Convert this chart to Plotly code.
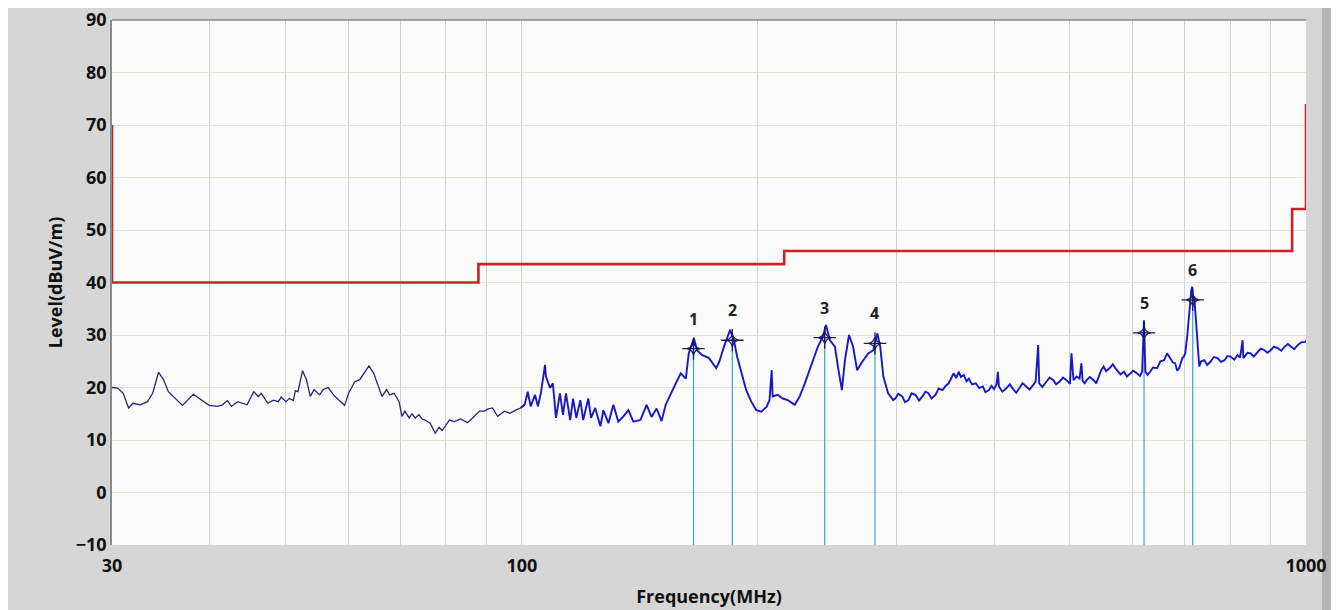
import math
import plotly.graph_objects as go

# ---- measured trace (MHz, dBuV/m) ----
trace_freq = [
    30.0, 30.5, 31.0, 31.5, 31.9, 32.6, 33.3, 33.8, 34.4, 34.9, 35.4, 36.9, 38.1, 38.9, 39.9,
    40.9, 41.5, 42.1, 42.6, 43.4, 44.1, 44.6, 45.5, 46.1, 46.5, 47.4, 48.2, 48.9, 49.3, 50.0,
    50.5, 51.1, 51.4, 51.8, 52.5, 53.1, 53.7, 54.3, 55.2, 55.8, 56.6, 57.5, 58.3, 59.4, 60.1,
    61.2, 62.1, 63.8, 64.7,
    65.3, 66.3, 67.2, 67.8, 68.7, 69.7, 70.3, 70.9, 71.8, 72.4, 73.1, 73.9, 74.6, 75.2, 76.4,
    77.5, 78.4, 79.1, 80.8, 82.0, 83.5, 85.2, 86.5, 88.3, 89.6, 90.4, 91.7, 93.1, 95.0, 96.5,
    98.2, 99.6, 100.8, 101.7, 102.6, 103.9, 104.8, 105.7, 107.0, 107.3, 108.6, 109.5, 110.5,
    111.8, 112.8, 113.8, 115.2, 116.2, 117.3, 118.7, 119.7, 121.5, 122.5, 124.0, 125.9, 127.0,
    128.9, 130.8, 132.7, 134.7, 136.7, 138.7, 141.6,
    144.2, 146.3, 148.5, 150.7, 152.5, 154.8, 157.1, 159.4, 161.8, 163.2, 165.7, 167.2, 169.6,
    173.2, 176.9, 178.5, 181.0, 184.3, 186.5, 188.1, 190.3, 193.2, 196.1, 199.0, 202.0, 205.1,
    206.9, 208.2, 208.8, 211.9, 215.1, 218.3, 222.8, 226.1, 229.5, 234.3, 238.5, 242.0, 244.2,
    247.1, 250.7, 252.9, 255.9, 258.2, 261.3, 264.4, 267.6, 271.6, 276.5, 280.6, 283.9, 286.4,
    289.0, 293.1, 297.5,
    299.3, 302.0, 305.5, 308.0, 311.1, 314.0, 317.5, 321.0, 324.1, 327.0, 329.9, 333.0, 336.8,
    340.0, 343.9, 347.0, 350.1, 353.0, 355.3, 358.0, 360.6, 363.0, 366.0, 369.0, 371.5, 375.0,
    379.2, 383.0, 387.1, 390.0, 394.0, 397.0, 400.0, 403.0, 404.6, 405.8, 410.0, 414.4, 419.0,
    423.1, 427.0, 430.6, 435.0, 439.6, 444.0, 448.8, 452.0, 455.4, 456.8, 461.0, 466.4, 471.0,
    476.2, 480.0, 484.7, 490.0, 494.9, 500.0, 502.2, 505.2, 510.0, 514.3, 517.0, 519.0, 522.0,
    525.0, 530.0, 536.1, 540.0, 544.1, 548.0, 551.9, 556.0, 561.8, 567.0, 573.8, 580.0, 586.0,
    591.0, 596.1, 602.0, 608.6, 614.0, 618.0, 621.4, 624.0, 628.0, 632.7, 638.0, 646.1, 652.0,
    659.2, 665.0, 670.9, 676.0, 681.0, 685.0, 689.1, 693.0, 695.3, 698.0, 701.3, 705.4, 709.0,
    711.7, 714.0, 716.0, 718.0, 720.2, 723.0, 726.6, 730.9, 735.0, 741.8, 748.0, 755.1, 763.0,
    771.1, 779.0, 787.1, 794.0, 801.2, 810.0, 817.9, 824.0, 830.1, 832.0, 835.0, 842.0, 850.0,
    858.0, 867.8, 876.0, 885.4, 893.0, 901.4, 910.0, 920.2, 930.0, 939.5, 948.0, 956.5, 966.0,
    976.4, 986.0, 997.0, 1000.0,
]
trace_level = [
    20.0, 19.9, 18.9, 16.1, 17.0, 16.7, 17.3, 18.9, 22.9, 21.5, 19.2, 16.6, 18.7, 17.7, 16.6,
    16.4, 16.7, 17.5, 16.4, 17.3, 17.0, 16.7, 19.2, 18.3, 18.9, 17.0, 17.6, 17.3, 18.2, 17.3,
    17.9, 17.5, 19.4, 19.2, 23.2, 21.5, 18.3, 19.6, 18.6, 19.6, 20.0, 18.6, 17.7, 16.6, 18.9,
    21.1, 21.5, 24.1, 22.7,
    21.1, 18.3, 19.6, 18.6, 18.9, 17.3, 14.5, 15.5, 14.2, 15.0, 14.2, 14.8, 14.0, 13.8, 13.2,
    11.3, 12.4, 11.8, 13.8, 13.5, 14.0, 13.3, 14.2, 15.5, 15.5, 15.9, 16.1, 14.5, 15.5, 15.1,
    15.7, 16.1, 16.7, 19.2, 16.4, 18.6, 16.4, 18.9, 24.3, 22.1, 19.9, 20.8, 14.2,
    18.9, 14.8, 18.9, 13.8, 17.9, 14.2, 17.6, 13.8, 17.9, 14.2, 16.1, 12.6, 15.7,
    13.2, 16.7, 13.5, 14.5, 15.7, 13.5, 13.8,
    16.7, 14.4, 16.0, 13.6, 16.7, 18.9, 20.8, 22.7, 21.7, 26.5, 29.4, 27.1, 26.2,
    25.6, 23.7, 24.9, 27.8, 31.0, 28.7, 25.9, 23.3, 19.5, 17.3, 15.7, 15.4, 16.3,
    17.6, 23.3, 18.3, 18.6, 17.9, 17.6, 16.7, 18.3, 20.8, 24.6, 27.8, 29.7, 31.9,
    29.0, 27.8, 24.0, 19.5, 25.2, 30.0, 27.8, 23.3, 24.9, 26.5, 27.1, 30.3, 27.8,
    22.1, 18.9, 17.6,
    17.9, 18.8, 18.3, 17.2, 17.6, 18.9, 18.6, 17.5, 18.3, 19.2, 18.9, 17.9, 18.6,
    19.8, 19.5, 20.3, 20.8, 22.0, 22.7, 21.8, 23.0, 22.0, 22.4, 21.2, 21.7, 20.6,
    20.8, 19.9, 20.2, 19.1, 19.5, 20.3, 19.7, 20.6, 23.0, 20.2, 19.2, 19.8, 20.6,
    19.7, 19.0, 19.8, 20.8, 20.2, 19.6, 20.5, 21.1, 28.1, 20.8, 20.1, 21.1, 21.9,
    21.4, 20.6, 21.1, 21.9, 21.4, 20.7, 26.5, 21.4, 22.1, 21.7, 24.6, 21.2, 20.8,
    21.4, 22.0, 21.4, 20.8, 22.1, 23.3, 24.0, 23.1, 23.7, 24.4, 23.3, 22.5, 23.0,
    22.1, 22.6, 23.2, 22.7, 22.2, 23.0, 32.8, 23.0, 22.4, 23.0, 23.8, 23.7, 25.0,
    25.2, 26.5, 25.6, 24.8, 24.6, 23.2, 23.7, 25.0, 25.6, 25.8, 26.5, 29.7, 33.5,
    37.3, 38.5, 39.2, 36.5, 37.3, 34.0, 30.3, 24.0, 25.0, 25.2, 24.3, 24.9, 25.8,
    25.6, 24.9, 25.2, 26.0, 25.9, 25.3, 26.2, 25.7, 29.0, 25.6, 25.9, 26.6, 26.5,
    25.9, 26.8, 27.4, 27.1, 26.6, 27.1, 27.8, 27.5, 27.0, 27.8, 28.3, 27.8, 27.3,
    28.1, 28.6, 28.7, 28.9,
]

# ---- limit line (step edges) ----
limit_freq = [30, 30, 88, 216, 960, 1000, 1000]
limit_level = [70, 40, 43.5, 46, 54, 54, 74]

# ---- markers ----
marker_labels = ["1", "2", "3", "4", "5", "6"]
marker_freq = [165.5, 185.5, 243.3, 282.0, 621.5, 717.0]
marker_level = [27.4, 29.0, 29.5, 28.4, 30.4, 36.7]

x_minor_grid = [40, 50, 60, 70, 80, 90, 200, 300, 400, 500, 600, 700, 800, 900]
x_tick_vals = [30, 100, 1000]
x_tick_text = ["30", "100", "1000"]
y_min, y_max = -10, 90
dense_start = 100.0  # trace drawn thicker above this frequency (as in the reference)

fig = go.Figure()

# marker drop lines
for f, lv in zip(marker_freq, marker_level):
    fig.add_trace(go.Scatter(x=[f, f], y=[y_min, lv], mode="lines",
                             line=dict(color="#3aa0cc", width=1.2),
                             hoverinfo="skip", showlegend=False))

fig.add_trace(go.Scatter(x=limit_freq, y=limit_level, mode="lines",
                         line=dict(color="#cc2222", width=2.6, shape="hv"),
                         showlegend=False))

lo = [(f, v) for f, v in zip(trace_freq, trace_level) if f <= dense_start + 1]
hi = [(f, v) for f, v in zip(trace_freq, trace_level) if f >= dense_start - 1]
fig.add_trace(go.Scatter(x=[p[0] for p in lo], y=[p[1] for p in lo], mode="lines",
                         line=dict(color="#25257e", width=1.3), showlegend=False))
fig.add_trace(go.Scatter(x=[p[0] for p in hi], y=[p[1] for p in hi], mode="lines",
                         line=dict(color="#1818c8", width=1.9), showlegend=False))

mk_col = "#1a1a5a"
fig.add_trace(go.Scatter(x=marker_freq, y=marker_level, mode="markers",
                         marker=dict(symbol="cross-thin-open", size=16, color=mk_col,
                                     line=dict(color=mk_col, width=1.3)),
                         showlegend=False))
fig.add_trace(go.Scatter(x=marker_freq, y=marker_level, mode="markers",
                         marker=dict(symbol="star-diamond-open", size=9, color=mk_col,
                                     line=dict(color=mk_col, width=1.2)),
                         showlegend=False))

annotations = []
for lab, f, lv in zip(marker_labels, marker_freq, marker_level):
    annotations.append(dict(x=math.log10(f), y=lv, xref="x", yref="y", text="<b>%s</b>" % lab,
                            showarrow=False, yshift=30,
                            font=dict(family="Open Sans", size=16, color="#222222")))

tick_font = dict(family="Open Sans", size=18, color="#111111", weight=700)
title_font = dict(family="Open Sans", size=18, color="#111111")

fig.update_layout(
    width=1331, height=602,
    margin=dict(l=104, r=33, t=12, b=65),
    paper_bgcolor="#d6d6d6",
    plot_bgcolor="#fbfbfb",
    xaxis=dict(
        type="log", range=[1.4771, 3.0], automargin=False,
        tickvals=x_tick_vals, ticktext=x_tick_text,
        tickfont=tick_font, ticks="", showline=False,
        ticklabelstandoff=8, ticklabeloverflow="allow",
        showgrid=True, gridcolor="#d2d2d2", gridwidth=1,
        minor=dict(tickvals=x_minor_grid, showgrid=True, gridcolor="#d2d2d2", gridwidth=1, ticks=""),
        zeroline=False,
        title=dict(text="<b>Frequency(MHz)</b>", font=title_font, standoff=14),
    ),
    yaxis=dict(
        range=[y_min, y_max], dtick=10, tick0=0, automargin=False,
        tickfont=tick_font, ticks="", ticklabeloverflow="allow",
        showgrid=True, gridcolor="#e8e3cc", gridwidth=1,
        showline=True, linecolor="#8a8a8a", linewidth=1.5,
        zeroline=False,
        title=dict(text="<b>Level(dBuV/m)</b>", font=title_font, standoff=8),
    ),
    annotations=annotations,
    shapes=[
        dict(type="line", xref="paper", yref="paper", x0=0, x1=1, y0=1, y1=1,
             line=dict(color="#8a8a8a", width=1.5)),
        dict(type="rect", xref="paper", yref="paper", x0=1.0135, x1=1.0245, y0=-0.2, y1=1.05,
             fillcolor="#b4b4b4", line=dict(width=0), layer="below"),
        dict(type="rect", xref="paper", yref="paper", x0=1.0245, x1=1.0290, y0=-0.2, y1=1.05,
             fillcolor="#858585", line=dict(width=0), layer="below"),
    ],
    showlegend=False,
)

fig.write_html("out.html")
